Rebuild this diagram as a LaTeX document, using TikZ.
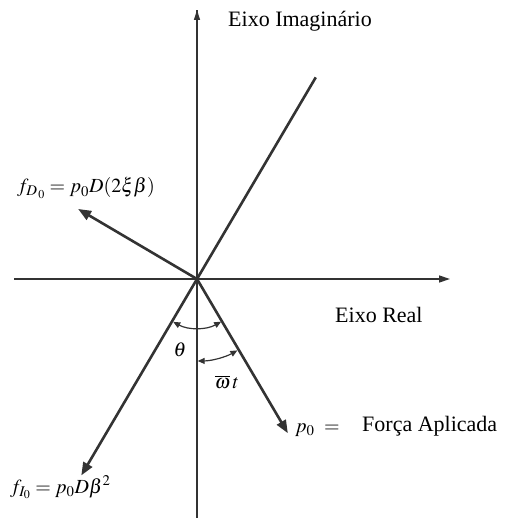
\documentclass[tikz,border=0pt]{standalone}
\usepackage{mathptmx}
\usepackage[no-math]{fontspec}
\setmainfont{Liberation Serif}
\usetikzlibrary{arrows.meta,calc}
\definecolor{ink}{HTML}{333333}
\begin{document}
\begin{tikzpicture}[x=1pt,y=1pt,
  axis/.style={draw=ink,line width=1.3pt},
  vec/.style={draw=ink,line width=2.6pt,-{Triangle[length=13pt,width=10pt]}},
  ang/.style={draw=ink,line width=1.2pt,{Triangle[length=7pt,width=6pt]}-{Triangle[length=7pt,width=6pt]}},
  lbl/.style={inner sep=0pt,font=\fontsize{22}{24}\selectfont},
  mlbl/.style={inner sep=0pt,font=\fontsize{20}{22}\selectfont}]
\useasboundingbox (0,0) rectangle (509,-518);
\coordinate (O) at (197,-279);
\coordinate (Ytop) at (197,-10);
\coordinate (Ybot) at (197,-518);
\coordinate (Xl) at (14,-279);
\coordinate (Xr) at (450,-279);
\coordinate (L) at ($(O)+(59.5:234)$);
\coordinate (FD) at ($(O)+(149.5:138)$);
\coordinate (FI) at ($(O)+(239.5:228)$);
\coordinate (P) at ($(O)+(300.5:179)$);
% axes
\draw[axis] (Ybot) -- (Ytop);
\draw[axis,-{Triangle[length=10pt,width=6pt]}] (Ytop) ++(0,-20) -- (Ytop);
\draw[axis,-{Triangle[length=11pt,width=7pt]}] (Xl) -- (Xr);
% vectors
\draw[draw=ink,line width=2.6pt] (O) -- (L);
\draw[vec] (O) -- (FD);
\draw[vec] (O) -- (FI);
\draw[vec] (O) -- (P);
% angles
\draw[ang] ($(O)+(241:49)$) arc[start angle=241,end angle=299.5,radius=49];
\draw[ang] ($(O)+(270.5:82)$) arc[start angle=270.5,end angle=299.5,radius=82];
% labels
\node[lbl,anchor=base west] (tIm) at (228,-27) {Eixo Imaginário};
\node[lbl,anchor=base west] (tRe) at (335,-322) {Eixo Real};
\node[lbl,anchor=base west] (tFA) at (362,-431) {Força Aplicada};
\node[mlbl,anchor=base west] (tP) at (295,-432) {$p_0 \ =$};
\node[mlbl,anchor=base west] (tFD) at (17,-193) {$f_{D_{\,0}} = p_0D(2\xi\beta)$};
\node[mlbl,anchor=base west] (tFI) at (10,-493) {$f_{I_0} = p_0D\beta^2$};
\node[mlbl] (tTh) at (180,-350) {$\theta$};
\node[mlbl] (tWt) at (227,-382) {$\overline{\omega}\,t$};
\end{tikzpicture}
\end{document}
